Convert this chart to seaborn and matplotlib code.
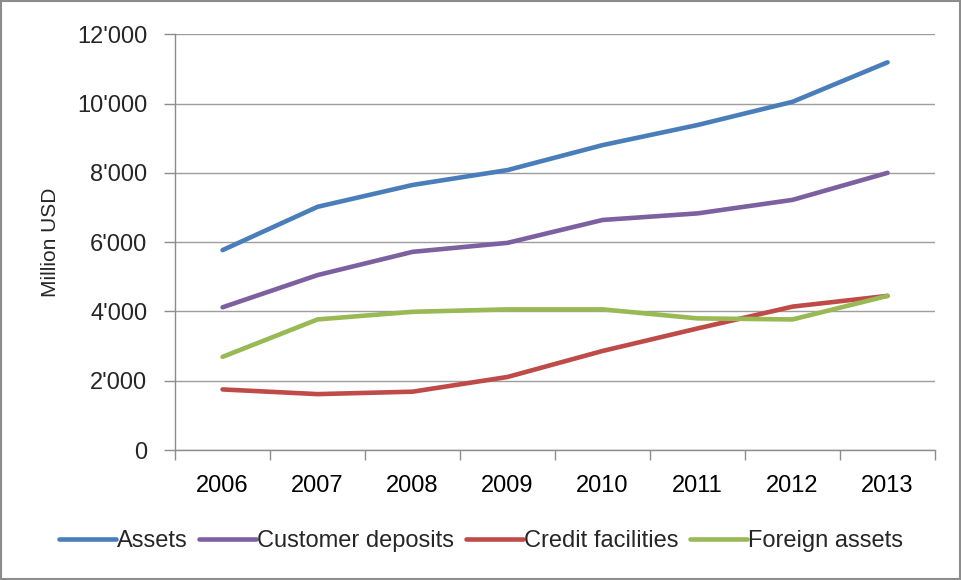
import numpy as np
import pandas as pd
import matplotlib
matplotlib.use('Agg')
import matplotlib.pyplot as plt
import matplotlib.ticker as mticker
from matplotlib.patches import Rectangle
import seaborn as sns

# Daten
years = [2006, 2007, 2008, 2009, 2010, 2011, 2012, 2013]
assets = [5770, 7020, 7650, 8080, 8800, 9380, 10050, 11190]
customer_deposits = [4120, 5050, 5720, 5980, 6640, 6830, 7220, 8000]
credit_facilities = [1750, 1615, 1685, 2110, 2860, 3510, 4140, 4450]
foreign_assets = [2690, 3770, 3990, 4060, 4060, 3800, 3770, 4450]

series_names = ['Assets', 'Customer deposits', 'Credit facilities', 'Foreign assets']
colors = ['#4A7EBB', '#7D60A0', '#BE4B48', '#98B954']

df = pd.DataFrame({
    'year': years * 4,
    'value': assets + customer_deposits + credit_facilities + foreign_assets,
    'series': np.repeat(series_names, len(years)),
})

sns.set_style('white')
plt.rcParams['font.family'] = ['Liberation Sans', 'DejaVu Sans']

fig = plt.figure(figsize=(9.62, 5.8), dpi=100)
ax = fig.add_axes([0.182, 0.224, 0.790, 0.717])

sns.lineplot(data=df, x='year', y='value', hue='series', hue_order=series_names,
             palette=colors, linewidth=3.3, ax=ax, legend=True)

ax.set_xlim(2005.5, 2013.5)
ax.set_ylim(0, 12000)
ax.set_yticks(range(0, 12001, 2000))
ax.yaxis.set_major_formatter(mticker.FuncFormatter(lambda v, p: f"{int(v):,}".replace(',', "'")))
ax.set_xticks(years)
ax.set_xticks(np.arange(2005.5, 2014, 1), minor=True)
ax.tick_params(axis='x', which='major', length=0, labelsize=17, pad=26, colors='#000000')
ax.tick_params(axis='x', which='minor', length=7, width=1, color='#8C8C8C', direction='out')
ax.tick_params(axis='y', length=8, width=1, color='#8C8C8C', labelsize=17, pad=12, direction='out')
ax.tick_params(left=True, bottom=True)
ax.xaxis.set_tick_params(which='minor', bottom=True)
for lbl in ax.get_xticklabels():
    lbl.set_verticalalignment('center')

ax.grid(axis='y', color='#9E9E9E', linewidth=1)
ax.set_axisbelow(True)
for side in ['top', 'right']:
    ax.spines[side].set_visible(False)
for side in ['left', 'bottom']:
    ax.spines[side].set_color('#8C8C8C')
    ax.spines[side].set_linewidth(1)

ax.set_xlabel('')
ax.set_ylabel('Million USD', fontsize=15, labelpad=12)

handles, labels = ax.get_legend_handles_labels()
ax.legend(handles, labels, loc='center', bbox_to_anchor=(0.5, 0.067),
          bbox_transform=fig.transFigure, ncol=4, frameon=False, fontsize=17,
          handlelength=2.4, handletextpad=0.05, columnspacing=0.5)

fig.patches.append(Rectangle((0.001, 0.002), 0.997, 0.996, transform=fig.transFigure,
                             fill=False, edgecolor='#8C8C8C', linewidth=1.5))

fig.savefig('out.png', dpi=100)
